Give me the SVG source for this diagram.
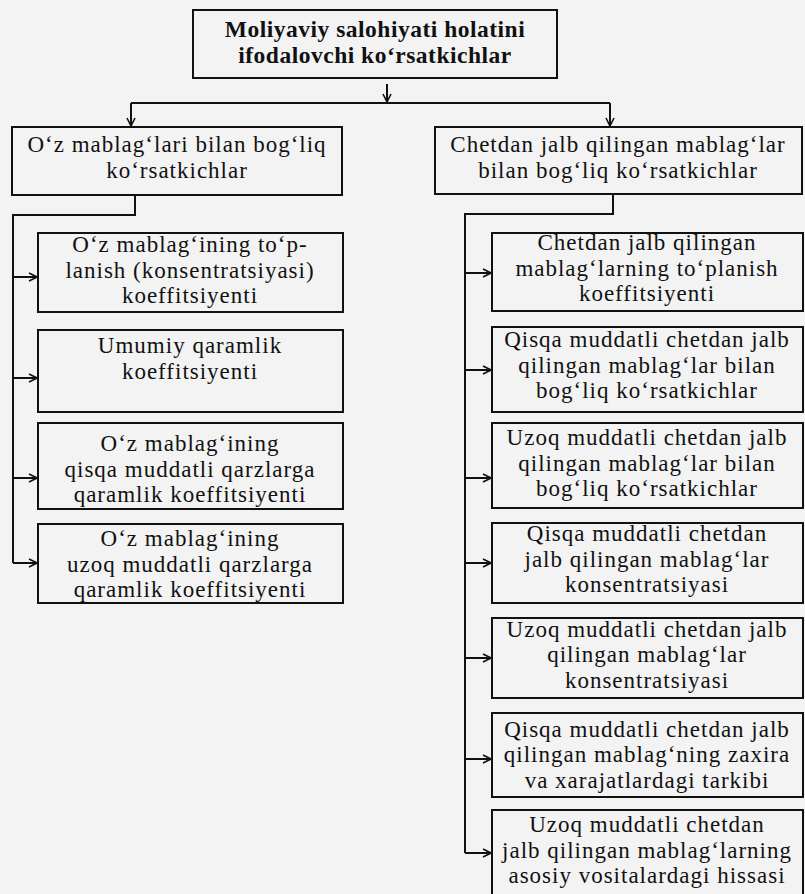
<svg xmlns="http://www.w3.org/2000/svg" width="805" height="894" viewBox="0 0 805 894">
<defs>
<marker id="ah" viewBox="0 0 10 10" refX="9" refY="5" markerWidth="10" markerHeight="10" markerUnits="userSpaceOnUse" orient="auto">
<path d="M1,1 L9,5 L1,9" fill="none" stroke="#111" stroke-width="1.6"/>
</marker>
<style>
.box{fill:none;stroke:#111;stroke-width:2}
.t{font-family:"Liberation Serif","Times New Roman",serif;font-size:23px;letter-spacing:1px;fill:#111;text-anchor:middle}
.b{font-family:"Liberation Serif","Times New Roman",serif;font-size:23.5px;letter-spacing:0.5px;font-weight:bold;fill:#111;text-anchor:middle}
.c{fill:none;stroke:#111;stroke-width:2}
.a{fill:none;stroke:#111;stroke-width:2;marker-end:url(#ah)}
</style>
</defs>
<rect width="805" height="894" fill="#f3f3f3"/>
<g id="root">
<rect class="box" x="193" y="10" width="364" height="68"/>
<text class="b" x="375" y="37">Moliyaviy salohiyati holatini</text>
<text class="b" x="375" y="63">ifodalovchi ko‘rsatkichlar</text>
</g>
<g id="own">
<rect class="box" x="12" y="127" width="330" height="68"/>
<text class="t" x="177" y="152">O‘z mablag‘lari bilan bog‘liq</text>
<text class="t" x="177" y="178">ko‘rsatkichlar</text>
</g>
<g id="ext">
<rect class="box" x="435" y="127" width="367" height="67"/>
<text class="t" x="618" y="152">Chetdan jalb qilingan mablag‘lar</text>
<text class="t" x="618" y="178">bilan bog‘liq ko‘rsatkichlar</text>
</g>
<g id="own1">
<rect class="box" x="38" y="233" width="305" height="79"/>
<text class="t" x="190" y="252">O‘z mablag‘ining to‘p-</text>
<text class="t" x="190" y="277.5">lanish  (konsentratsiyasi)</text>
<text class="t" x="190" y="303">koeffitsiyenti</text>
</g>
<g id="own2">
<rect class="box" x="38" y="330" width="305" height="82"/>
<text class="t" x="190" y="353">Umumiy qaramlik</text>
<text class="t" x="190" y="378.5">koeffitsiyenti</text>
</g>
<g id="own3">
<rect class="box" x="38" y="423" width="305" height="86"/>
<text class="t" x="190" y="451">O‘z mablag‘ining</text>
<text class="t" x="190" y="476.5">qisqa muddatli qarzlarga</text>
<text class="t" x="190" y="502">qaramlik koeffitsiyenti</text>
</g>
<g id="own4">
<rect class="box" x="38" y="524" width="305" height="79"/>
<text class="t" x="190" y="546">O‘z mablag‘ining</text>
<text class="t" x="190" y="571.5">uzoq muddatli qarzlarga</text>
<text class="t" x="190" y="597">qaramlik koeffitsiyenti</text>
</g>
<g id="ext1">
<rect class="box" x="492" y="233" width="311" height="78"/>
<text class="t" x="647" y="250">Chetdan jalb qilingan</text>
<text class="t" x="647" y="275.5">mablag‘larning to‘planish</text>
<text class="t" x="647" y="301">koeffitsiyenti</text>
</g>
<g id="ext2">
<rect class="box" x="492" y="327" width="311" height="85"/>
<text class="t" x="647" y="347">Qisqa muddatli chetdan jalb</text>
<text class="t" x="647" y="372.5">qilingan mablag‘lar bilan</text>
<text class="t" x="647" y="398">bog‘liq ko‘rsatkichlar</text>
</g>
<g id="ext3">
<rect class="box" x="492" y="423" width="311" height="85"/>
<text class="t" x="647" y="445">Uzoq muddatli chetdan jalb</text>
<text class="t" x="647" y="470.5">qilingan mablag‘lar bilan</text>
<text class="t" x="647" y="496">bog‘liq ko‘rsatkichlar</text>
</g>
<g id="ext4">
<rect class="box" x="492" y="523" width="311" height="80"/>
<text class="t" x="647" y="541">Qisqa muddatli chetdan</text>
<text class="t" x="647" y="566.5">jalb qilingan mablag‘lar</text>
<text class="t" x="647" y="592">konsentratsiyasi</text>
</g>
<g id="ext5">
<rect class="box" x="492" y="618" width="311" height="80"/>
<text class="t" x="647" y="636.5">Uzoq muddatli chetdan jalb</text>
<text class="t" x="647" y="662">qilingan mablag‘lar</text>
<text class="t" x="647" y="687.5">konsentratsiyasi</text>
</g>
<g id="ext6">
<rect class="box" x="492" y="713" width="311" height="84"/>
<text class="t" x="647" y="736.5">Qisqa muddatli chetdan jalb</text>
<text class="t" x="647" y="762">qilingan mablag‘ning zaxira</text>
<text class="t" x="647" y="787.5">va xarajatlardagi tarkibi</text>
</g>
<g id="ext7">
<rect class="box" x="492" y="810" width="311" height="90"/>
<text class="t" x="647" y="832">Uzoq muddatli chetdan</text>
<text class="t" x="647" y="857.5">jalb qilingan mablag‘larning</text>
<text class="t" x="647" y="883">asosiy vositalardagi hissasi</text>
</g>
<g id="connectors">
<path class="a" d="M387,84 V102"/>
<path class="c" d="M131,103 H610"/>
<path class="a" d="M131,103 V126"/>
<path class="a" d="M610,103 V126"/>
<path class="c" d="M135,195 V215 H13 V563"/>
<path class="a" d="M13,277 H37"/>
<path class="a" d="M13,378 H37"/>
<path class="a" d="M13,478 H37"/>
<path class="a" d="M13,563 H37"/>
<path class="c" d="M613,194 V214 H465 V853"/>
<path class="a" d="M465,273 H491"/>
<path class="a" d="M465,370 H491"/>
<path class="a" d="M465,478 H491"/>
<path class="a" d="M465,563 H491"/>
<path class="a" d="M465,658 H491"/>
<path class="a" d="M465,759 H491"/>
<path class="a" d="M465,853 H491"/>
</g>
</svg>
